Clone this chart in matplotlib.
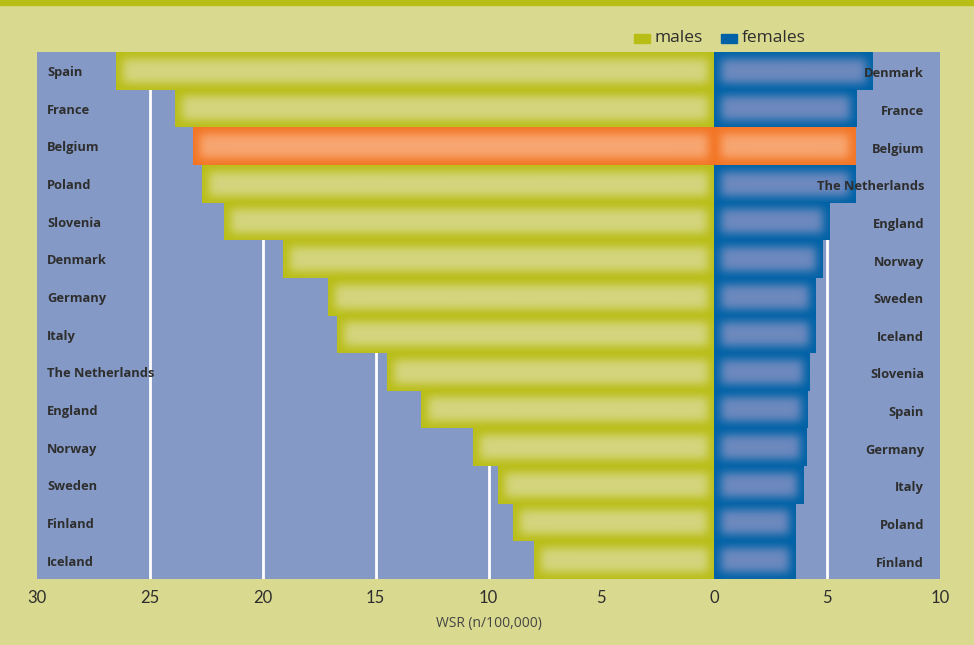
import math
import numpy as np
import matplotlib
matplotlib.use("Agg")
import matplotlib.pyplot as plt
from matplotlib.colors import to_rgb
from matplotlib.patches import Rectangle

# suicide rates (WSR per 100,000), one ranking per sex
male_countries = ["Spain", "France", "Belgium", "Poland", "Slovenia", "Denmark", "Germany",
                  "Italy", "The Netherlands", "England", "Norway", "Sweden", "Finland", "Iceland"]
male_rates = [26.5, 23.9, 23.1, 22.7, 21.7, 19.1, 17.1, 16.7, 14.5, 13.0, 10.7, 9.6, 8.9, 8.0]

female_countries = ["Denmark", "France", "Belgium", "The Netherlands", "England", "Norway", "Sweden",
                    "Iceland", "Slovenia", "Spain", "Germany", "Italy", "Poland", "Finland"]
female_rates = [7.0, 6.3, 6.25, 6.25, 5.1, 4.8, 4.5, 4.5, 4.25, 4.15, 4.1, 3.95, 3.6, 3.6]

tick_values = [-30, -25, -20, -15, -10, -5, 0, 5, 10]
grid_values = [-25, -20, -15, -10, 5]
highlight = "Belgium"

BG = "#d9da8f"
PLOT_BG = "#8499c5"
OLIVE = ("#b9be17", "#d4d57e")
BLUE = ("#0062a6", "#6d89be")
ORANGE = ("#f37524", "#f8a671")
TEXT = "#2e2e2e"

W, H, DPI = 974, 645, 100
fig = plt.figure(figsize=(W / DPI, H / DPI), dpi=DPI, facecolor=BG)
ax = fig.add_axes([37 / W, (H - 579) / H, (940 - 37) / W, (579 - 52) / H])
ax.set_facecolor(PLOT_BG)
ax.set_xlim(-30, 10)
ax.set_ylim(13.5, -0.5)

px_x = (940 - 37) / 40.0       # pixels per unit on x
px_y = (579 - 52) / 14.0       # pixels per row

erf = np.vectorize(math.erf)


def soft(d, inset=7.0, sigma=4.5):
    # blurred step: 0 at the bar edge, 1 well inside
    return 0.5 * (1 + erf((d - inset) / (sigma * math.sqrt(2))))


def glow_bar(x0, x1, row, colors):
    edge, center = np.array(to_rgb(colors[0])), np.array(to_rgb(colors[1]))
    w = max(int(round(abs(x1 - x0) * px_x)), 2)
    h = int(round(px_y))
    xs = np.arange(w) + 0.5
    ys = np.arange(h) + 0.5
    dx = np.minimum(xs, w - xs)
    dy = np.minimum(ys, h - ys)
    f = np.outer(soft(dy), soft(dx))
    f = np.clip(f / f.max(), 0, 1)
    img = edge + (center - edge) * f[..., None]
    ax.barh(row, x1 - x0, left=x0, height=1.0, color=colors[0], zorder=2, linewidth=0)
    ax.imshow(img, extent=[min(x0, x1), max(x0, x1), row + 0.5, row - 0.5],
              aspect="auto", interpolation="bilinear", zorder=3)


for v in grid_values:
    ax.axvline(v, color="white", lw=2, zorder=1)

for i, (c, v) in enumerate(zip(male_countries, male_rates)):
    glow_bar(-v, 0, i, ORANGE if c == highlight else OLIVE)
for i, (c, v) in enumerate(zip(female_countries, female_rates)):
    glow_bar(0, v, i, ORANGE if c == highlight else BLUE)

ax.set_xlim(-30, 10)
ax.set_ylim(13.5, -0.5)

font = "Open Sans"
for i, c in enumerate(male_countries):
    ax.text(-30 + 10 / px_x, i + 0.05, c, ha="left", va="center", fontsize=9.3,
            fontweight="bold", family=font, color=TEXT, zorder=5)
for i, c in enumerate(female_countries):
    ax.text(10 - 16 / px_x, i + 0.08, c, ha="right", va="center", fontsize=9.3,
            fontweight="bold", family=font, color=TEXT, zorder=5)

ax.set_yticks([])
ax.set_xticks(tick_values)
ax.set_xticklabels([str(abs(v)) for v in tick_values], family="Lato", fontsize=12, color=TEXT)
ax.tick_params(axis="x", length=0, pad=8)
ax.set_xlabel("WSR (n/100,000)", family=font, fontsize=10, color="#444444", labelpad=7)
for s in ax.spines.values():
    s.set_visible(False)

# olive band along the top edge
fig.patches.append(Rectangle((0, 1 - 5 / H), 1, 5 / H, transform=fig.transFigure,
                             color="#b9be17", zorder=0))

# legend
for x, col, label in [(634, OLIVE[0], "males"), (721, BLUE[0], "females")]:
    fig.patches.append(Rectangle((x / W, 1 - 43 / H), 16 / W, 9 / H,
                                 transform=fig.transFigure, color=col))
    fig.text((x + 21) / W, 1 - 38 / H, label, family=font, fontsize=12.5,
             color=TEXT, va="center", ha="left")

fig.savefig("out.png", dpi=DPI, facecolor=BG)
